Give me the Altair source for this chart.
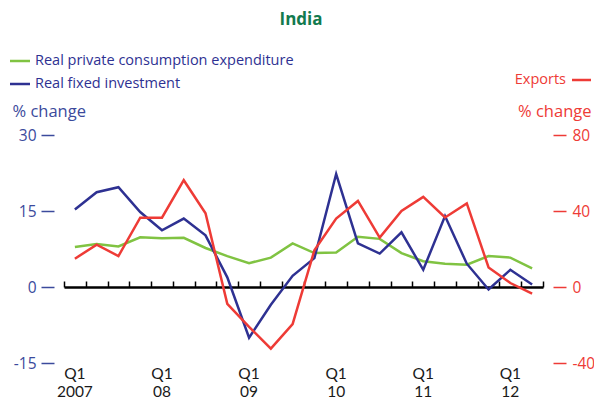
import altair as alt
import pandas as pd

quarters = ["2007-Q1", "2007-Q2", "2007-Q3", "2007-Q4",
            "2008-Q1", "2008-Q2", "2008-Q3", "2008-Q4",
            "2009-Q1", "2009-Q2", "2009-Q3", "2009-Q4",
            "2010-Q1", "2010-Q2", "2010-Q3", "2010-Q4",
            "2011-Q1", "2011-Q2", "2011-Q3", "2011-Q4",
            "2012-Q1", "2012-Q2"]
consumption = [7.9, 8.5, 8.0, 9.8, 9.6, 9.7, 7.7, 6.1, 4.7, 5.8, 8.6,
               6.7, 6.8, 9.9, 9.5, 6.7, 5.1, 4.6, 4.4, 6.1, 5.8, 3.7]
investment = [15.3, 18.7, 19.7, 14.8, 11.2, 13.5, 10.2, 1.9, -10.0, -3.5, 2.2,
              5.7, 22.3, 8.6, 6.6, 10.8, 3.4, 14.0, 4.6, -0.5, 3.4, 0.5]
exports = [14.9, 22.3, 16.3, 36.5, 36.5, 56.2, 38.8, -8.9, -21.0, -32.4, -19.5,
           19.3, 36.0, 45.3, 26.0, 40.0, 47.4, 36.6, 44.0, 10.3, 2.1, -3.5]

chart_title = "India"
series_names = ["Real private consumption expenditure", "Real fixed investment"]
exports_name = "Exports"
left_ticks = [-15, 0, 15, 30]
right_ticks = [-40, 0, 40, 80]

FONT = "Open Sans"
XFONT = "Lato"
GREEN = "#80c342"
BLUE = "#2e3192"
RED = "#ee3b36"
AXIS_BLUE = "#3b4a9c"
TITLE_GREEN = "#127a4e"

left_df = pd.DataFrame({
    "quarter": quarters * 2,
    "series": [series_names[0]] * len(quarters) + [series_names[1]] * len(quarters),
    "value": consumption + investment,
})
right_df = pd.DataFrame({"quarter": quarters, "value": exports})

xscale = alt.Scale(type="band", domain=quarters, paddingInner=0, paddingOuter=0)

label_expr = ("slice(datum.value, 5) == 'Q1' ? "
              "['Q1', datum.value == '2007-Q1' ? '2007' : slice(datum.value, 2, 4)] : ''")
num_expr = "datum.value < 0 ? '-' + abs(datum.value) : '' + datum.value"

bottom_axis = alt.Axis(orient="bottom", domain=False, ticks=False, grid=False,
                       labelExpr=label_expr, labelAngle=0, labelFontSize=15.5,
                       labelColor="#1a1a1a", labelFont=XFONT, labelPadding=3,
                       labelLineHeight=18.6, labelBaseline="top", title=None)
top_axis = alt.Axis(orient="top", offset=-152, domain=True, domainColor="#000000",
                    domainWidth=2.5, ticks=True, tickColor="#000000", tickWidth=1.5,
                    tickSize=6, tickBand="extent", labels=False, grid=False, title=None)

left_axis = alt.Axis(orient="left", values=left_ticks, offset=10, domain=False,
                     tickSize=13, tickWidth=1.5, tickColor=AXIS_BLUE, grid=False,
                     labelExpr=num_expr,
                     labelColor=AXIS_BLUE, labelFontSize=15.5, labelFont=FONT,
                     labelPadding=5, title="% change", titleAngle=0,
                     titleAlign="left", titleBaseline="alphabetic", titleX=-42,
                     titleY=-19, titleFontWeight="normal", titleFontSize=16.5,
                     titleFont=FONT, titleColor=AXIS_BLUE)
right_axis = alt.Axis(orient="right", values=right_ticks, offset=10, domain=False,
                      tickSize=13, tickWidth=1.5, tickColor=RED, grid=False,
                      labelExpr=num_expr,
                      labelColor=RED, labelFontSize=15.5, labelFont=FONT,
                      labelPadding=6, title="% change", titleAngle=0,
                      titleAlign="right", titleBaseline="alphabetic", titleX=38,
                      titleY=-19, titleFontWeight="normal", titleFontSize=16.5,
                      titleFont=FONT, titleColor=RED)

left_lines = alt.Chart(left_df).mark_line(strokeWidth=2.5).encode(
    x=alt.X("quarter:N", sort=quarters, scale=xscale, bandPosition=0.5, axis=bottom_axis),
    y=alt.Y("value:Q", scale=alt.Scale(domain=[-15, 30], nice=False, zero=False), axis=left_axis),
    color=alt.Color("series:N", scale=alt.Scale(domain=series_names, range=[GREEN, BLUE]), legend=None),
    order=alt.Order("series:N", sort="descending"),
)

right_line = alt.Chart(right_df).mark_line(strokeWidth=2.5, color=RED).encode(
    x=alt.X("quarter:N", sort=quarters, scale=xscale, bandPosition=0.5, axis=top_axis),
    y=alt.Y("value:Q", scale=alt.Scale(domain=[-40, 80], nice=False, zero=False), axis=right_axis),
)

leg1 = pd.DataFrame({"label": [series_names[0]]})
leg2 = pd.DataFrame({"label": [series_names[1]]})
leg3 = pd.DataFrame({"label": [exports_name]})
title_df = pd.DataFrame({"label": [chart_title]})

def swatch(df, color, x1, x2, y):
    return alt.Chart(df).mark_rule(color=color, strokeWidth=2.5).encode(
        x=alt.value(x1), x2=alt.value(x2), y=alt.value(y))

def label(df, color, x, y, align, size=14.5, weight="normal"):
    return alt.Chart(df).mark_text(color=color, fontSize=size, font=FONT, align=align,
                                   fontWeight=weight, baseline="middle").encode(
        x=alt.value(x), y=alt.value(y), text="label:N")

legend_layers = [
    swatch(leg1, GREEN, -54, -34, -74), label(leg1, BLUE, -29, -74, "left"),
    swatch(leg2, BLUE, -54, -34, -51), label(leg2, BLUE, -29, -51, "left"),
    swatch(leg3, RED, 508, 527, -55), label(leg3, RED, 502, -55, "right"),
    label(title_df, TITLE_GREEN, 237, -115, "center", size=17, weight="bold"),
]

chart = alt.layer(left_lines, right_line, *legend_layers).resolve_scale(
    y="independent"
).resolve_axis(x="independent").properties(
    width=479, height=228,
    autosize=alt.AutoSizeParams(type="none"),
    padding={"left": 56, "top": 127, "right": 51, "bottom": 37},
).configure(background="white", view=alt.ViewConfig(stroke=None))

chart.save("out.html", embed_options={"renderer": "svg", "actions": False})
